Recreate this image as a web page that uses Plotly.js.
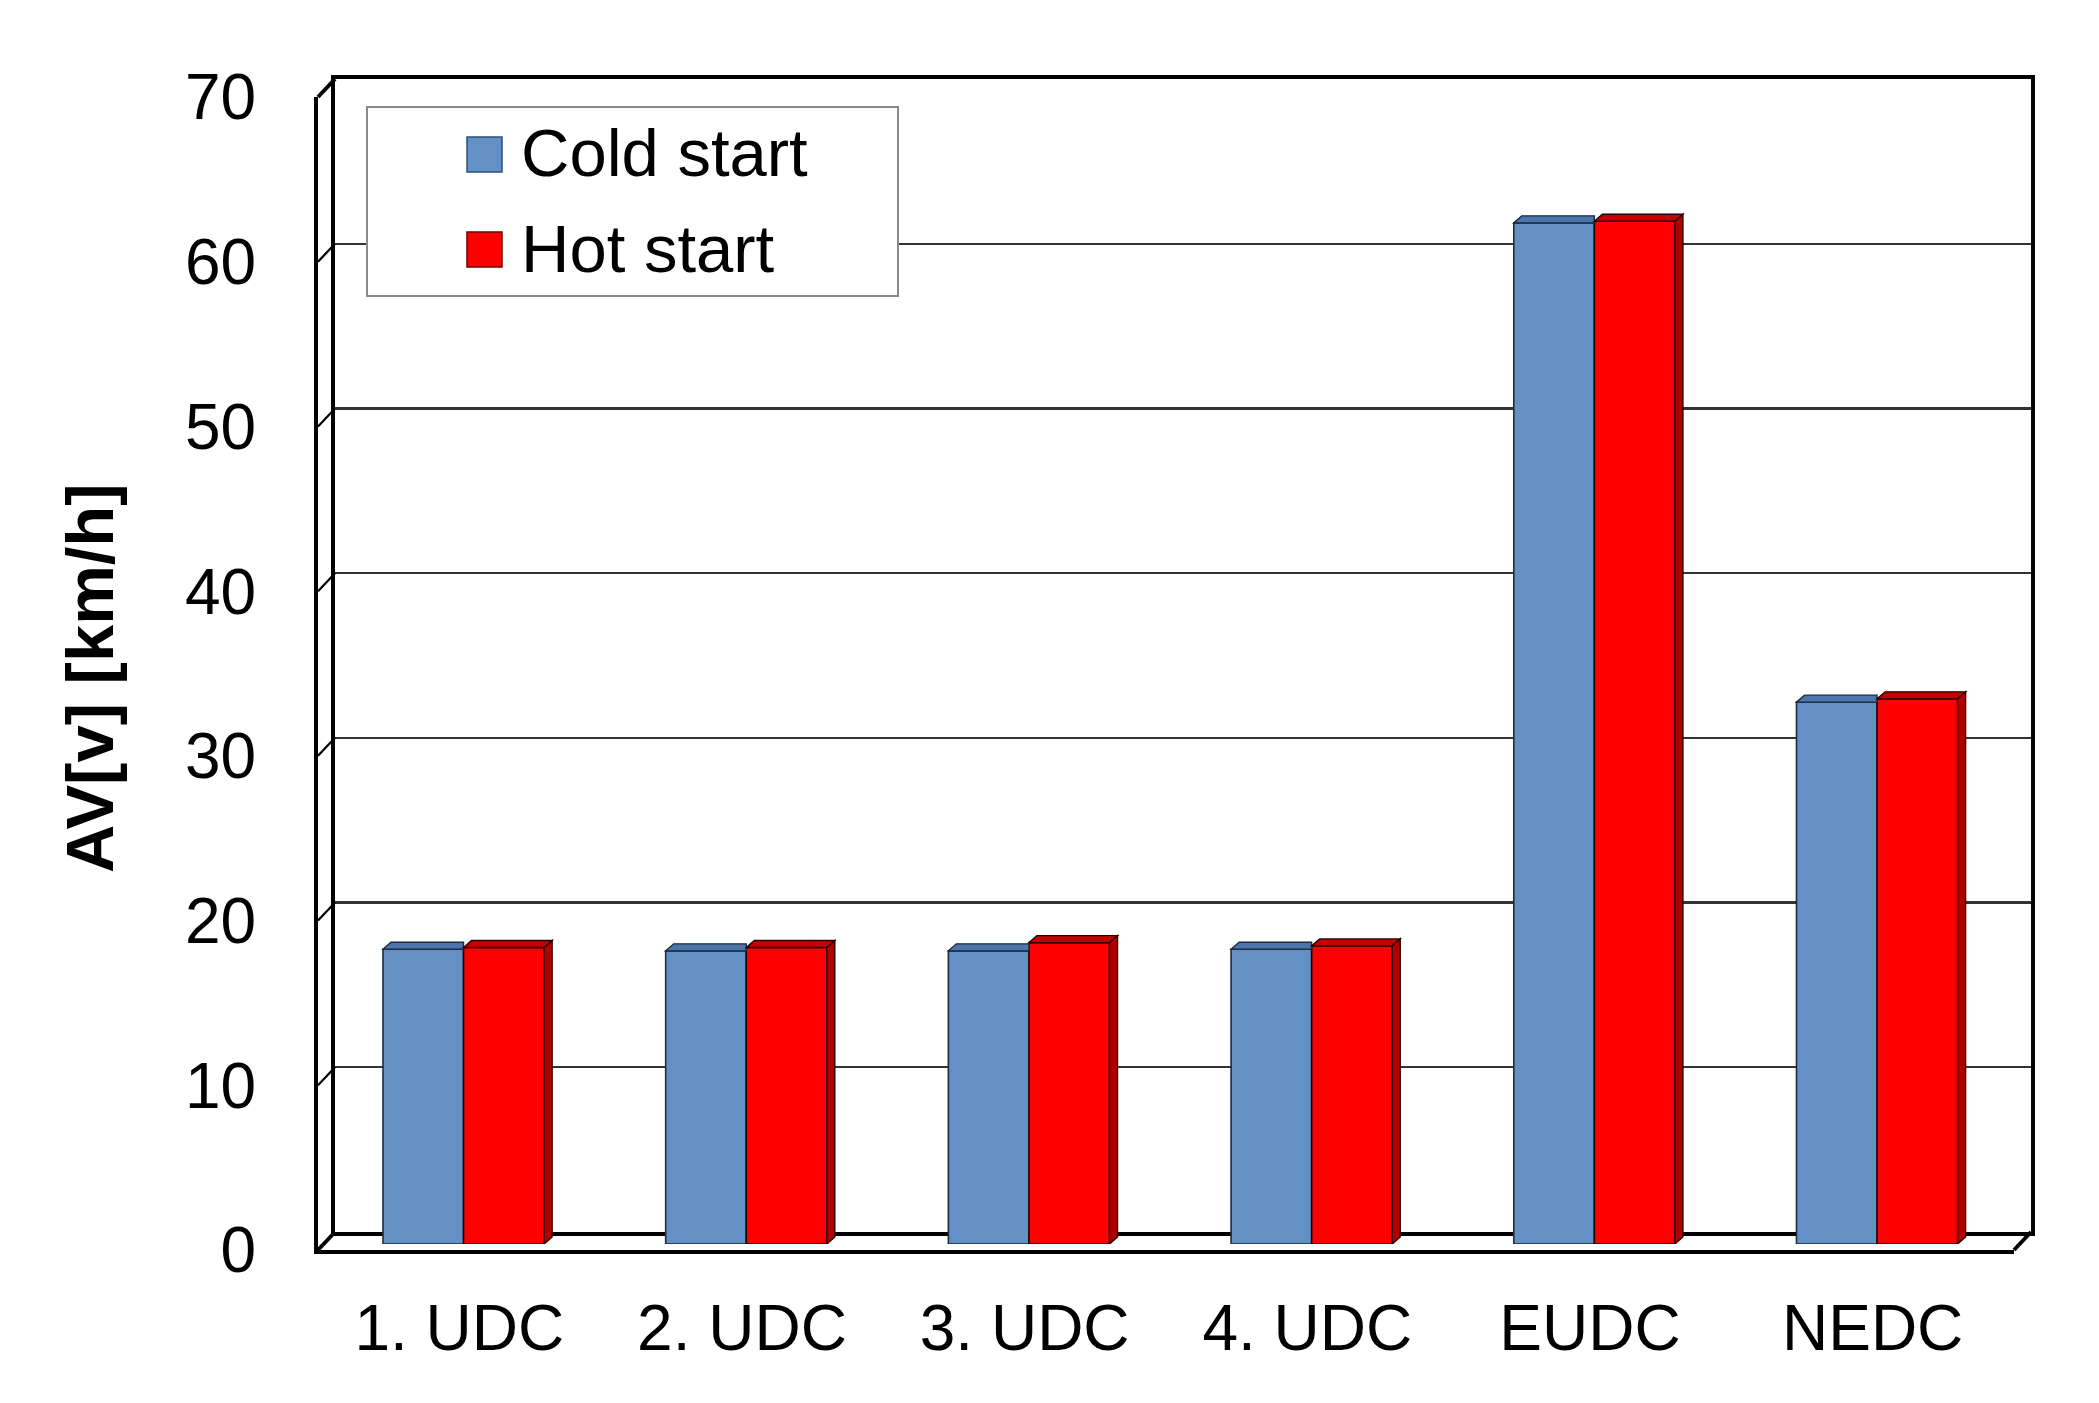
<!DOCTYPE html>
<html>
<head>
<meta charset="utf-8">
<script src="https://cdn.plot.ly/plotly-3.0.1.min.js"></script>
<style>html,body{margin:0;padding:0;background:#fff;}#chart{width:2099px;height:1403px;}</style>
</head>
<body>
<div id="chart"></div>
<script>
// ---- data ----
const categories = ["1. UDC", "2. UDC", "3. UDC", "4. UDC", "EUDC", "NEDC"];
const seriesNames = ["Cold start", "Hot start"];
const coldStart = [17.9, 17.8, 17.8, 17.9, 62.0, 32.9];
const hotStart  = [18.0, 18.0, 18.3, 18.1, 62.1, 33.1];
const yTickValues = [0, 10, 20, 30, 40, 50, 60, 70];
const yTickLabels = ["0", "10", "20", "30", "40", "50", "60", "70"];
const yTitle = "AV[v] [km/h]";

// ---- layout geometry (pixels) ----
const W = 2099, H = 1403;
const fx = p => p / W;
const fy = p => (H - p) / H;
const back  = {x0: 335,   x1: 2031,   yb: 1232, yt: 79};
const bars  = {x0: 322.2, x1: 2018.4, yb: 1244, yt: 91.1};
const front = {x0: 318,   x1: 2014,   yb: 1250, yt: 97};
const depthX = front.x0 - back.x0, depthY = front.yb - back.yb;
const yMax = 70;
const BW = 0.285;                 // bar width in category units
const pxPerCat = (bars.x1 - bars.x0) / categories.length;
const pxPerUnit = (bars.yb - bars.yt) / yMax;
const wPx = BW * pxPerCat;
const ddx = 8, ddy = 7;           // bar 3D depth in px

const FONT = "Liberation Sans, Arial, Helvetica, sans-serif";
const blue = "#6391C6", blueTop = "#4B75AC";
const red = "#FF0000", redTop = "#C40000", redSide = "#B00000";
const idx = categories.map((c, i) => i);

const traces = [
  // empty trace so that the back-wall axes (gridlines, box) get drawn
  {type: "scatter", mode: "markers", x: [], y: [], xaxis: "x", yaxis: "y", showlegend: false, hoverinfo: "skip"},
  {type: "bar", name: seriesNames[0], x: categories, y: coldStart, xaxis: "x2", yaxis: "y2",
   offset: -BW, width: BW, marker: {color: blue, line: {color: "#1d2b3c", width: 1.6}}, showlegend: false},
  {type: "bar", name: seriesNames[1], x: categories, y: hotStart, xaxis: "x2", yaxis: "y2",
   offset: 0, width: BW, marker: {color: red, line: {color: "#2a0000", width: 1.6}}, showlegend: false},
  // empty trace so that the front-plane axes (labels) get drawn
  {type: "scatter", mode: "markers", x: [], y: [], xaxis: "x3", yaxis: "y3", showlegend: false, hoverinfo: "skip"}
];

const shapes = [];
// 3D top & side faces of the bars
idx.forEach(i => {
  shapes.push({type: "path", layer: "above", xref: "x2", yref: "y2", xsizemode: "pixel", ysizemode: "pixel",
    xanchor: i - BW, yanchor: coldStart[i],
    path: `M0,0 L${wPx},0 L${wPx},${ddy} L${ddx},${ddy} Z`,
    fillcolor: blueTop, line: {color: "#1d2b3c", width: 1.4}});
  shapes.push({type: "path", layer: "above", xref: "x2", yref: "y2", xsizemode: "pixel", ysizemode: "pixel",
    xanchor: i, yanchor: hotStart[i],
    path: `M0,0 L${wPx},0 L${wPx + ddx},${ddy} L${ddx},${ddy} Z`,
    fillcolor: redTop, line: {color: "#2a0000", width: 1.4}});
  const hPx = hotStart[i] * pxPerUnit;
  shapes.push({type: "path", layer: "above", xref: "x2", yref: "y2", xsizemode: "pixel", ysizemode: "pixel",
    xanchor: i, yanchor: 0,
    path: `M${wPx},0 L${wPx + ddx},${ddy} L${wPx + ddx},${hPx + ddy} L${wPx},${hPx} Z`,
    fillcolor: redSide, line: {color: "#2a0000", width: 1.4}});
});
// depth diagonals on the left wall and the floor corner (domain refs: not clipped)
yTickValues.forEach(v => {
  shapes.push({type: "line", layer: "above", xref: "x domain", yref: "y domain", xsizemode: "pixel", ysizemode: "pixel",
    xanchor: 0, yanchor: v / yMax, x0: 0, y0: 0, x1: depthX, y1: -depthY,
    line: {color: "#000", width: v === 0 || v === yMax ? 4 : 2.2}});
});
shapes.push({type: "line", layer: "above", xref: "x domain", yref: "y domain", xsizemode: "pixel", ysizemode: "pixel",
  xanchor: 1, yanchor: 0, x0: 0, y0: 0, x1: depthX, y1: -depthY,
  line: {color: "#000", width: 4}});

// legend (custom, to get large swatches)
shapes.push({type: "rect", layer: "above", xref: "paper", yref: "paper",
  x0: fx(367), x1: fx(898), y0: fy(296), y1: fy(107), fillcolor: "#fff", line: {color: "#8a8a8a", width: 2}});
shapes.push({type: "rect", layer: "above", xref: "paper", yref: "paper",
  x0: fx(467), x1: fx(502), y0: fy(172), y1: fy(137), fillcolor: blue, line: {color: "#2f4f77", width: 1.5}});
shapes.push({type: "rect", layer: "above", xref: "paper", yref: "paper",
  x0: fx(467), x1: fx(502), y0: fy(267), y1: fy(232), fillcolor: red, line: {color: "#700000", width: 1.5}});

const annotations = [
  {text: seriesNames[0], xref: "paper", yref: "paper", x: fx(519), y: fy(152), xanchor: "left", yanchor: "middle",
   showarrow: false, font: {family: FONT, size: 67, color: "#000"}},
  {text: seriesNames[1], xref: "paper", yref: "paper", x: fx(519), y: fy(248), xanchor: "left", yanchor: "middle",
   showarrow: false, font: {family: FONT, size: 67, color: "#000"}},
  {text: yTitle, xref: "paper", yref: "paper", x: fx(89), y: fy(678), xanchor: "center", yanchor: "middle",
   textangle: -90, showarrow: false, font: {family: FONT, size: 67, color: "#000", weight: 700}}
];

const noTicks = {showticklabels: false, ticks: "", showgrid: false, zeroline: false, fixedrange: true};
const layout = {
  width: W, height: H,
  margin: {l: 0, r: 0, t: 0, b: 0, pad: 0},
  paper_bgcolor: "#fff", plot_bgcolor: "rgba(0,0,0,0)",
  showlegend: false,
  font: {family: FONT, color: "#000"},
  // back wall with gridlines
  xaxis: Object.assign({}, noTicks, {domain: [fx(back.x0), fx(back.x1)], range: [-0.5, categories.length - 0.5],
    type: "linear", anchor: "y", showline: true, mirror: true, linecolor: "#000", linewidth: 4}),
  yaxis: Object.assign({}, noTicks, {domain: [fy(back.yb), fy(back.yt)], range: [0, yMax], anchor: "x",
    type: "linear", tickvals: yTickValues, tickmode: "array", showgrid: true, gridcolor: "#333", gridwidth: 2.2,
    showline: true, mirror: true, linecolor: "#000", linewidth: 4}),
  // bars plane
  xaxis2: Object.assign({}, noTicks, {domain: [fx(bars.x0), fx(bars.x1)], type: "category",
    categoryorder: "array", categoryarray: categories, range: [-0.5, categories.length - 0.5], anchor: "y2"}),
  yaxis2: Object.assign({}, noTicks, {domain: [fy(bars.yb), fy(bars.yt)], range: [0, yMax], anchor: "x2"}),
  // front plane with labels
  xaxis3: {domain: [fx(front.x0), fx(front.x1)], range: [-0.5, categories.length - 0.5], anchor: "y3", type: "linear",
    tickmode: "array", tickvals: idx, ticktext: categories, ticks: "", showgrid: false, zeroline: false,
    showline: true, linecolor: "#000", linewidth: 4, ticklabelstandoff: 19,
    tickfont: {family: FONT, size: 64, color: "#000"}, fixedrange: true},
  yaxis3: {domain: [fy(front.yb), fy(front.yt)], range: [0, yMax], anchor: "x3", type: "linear",
    tickmode: "array", tickvals: yTickValues, ticktext: yTickLabels, ticks: "", showgrid: false, zeroline: false,
    showline: true, linecolor: "#000", linewidth: 4, ticklabelstandoff: 45,
    tickfont: {family: FONT, size: 64, color: "#000"}, fixedrange: true},
  shapes: shapes,
  annotations: annotations
};

Plotly.newPlot("chart", traces, layout, {staticPlot: true, displayModeBar: false});
</script>
</body>
</html>
